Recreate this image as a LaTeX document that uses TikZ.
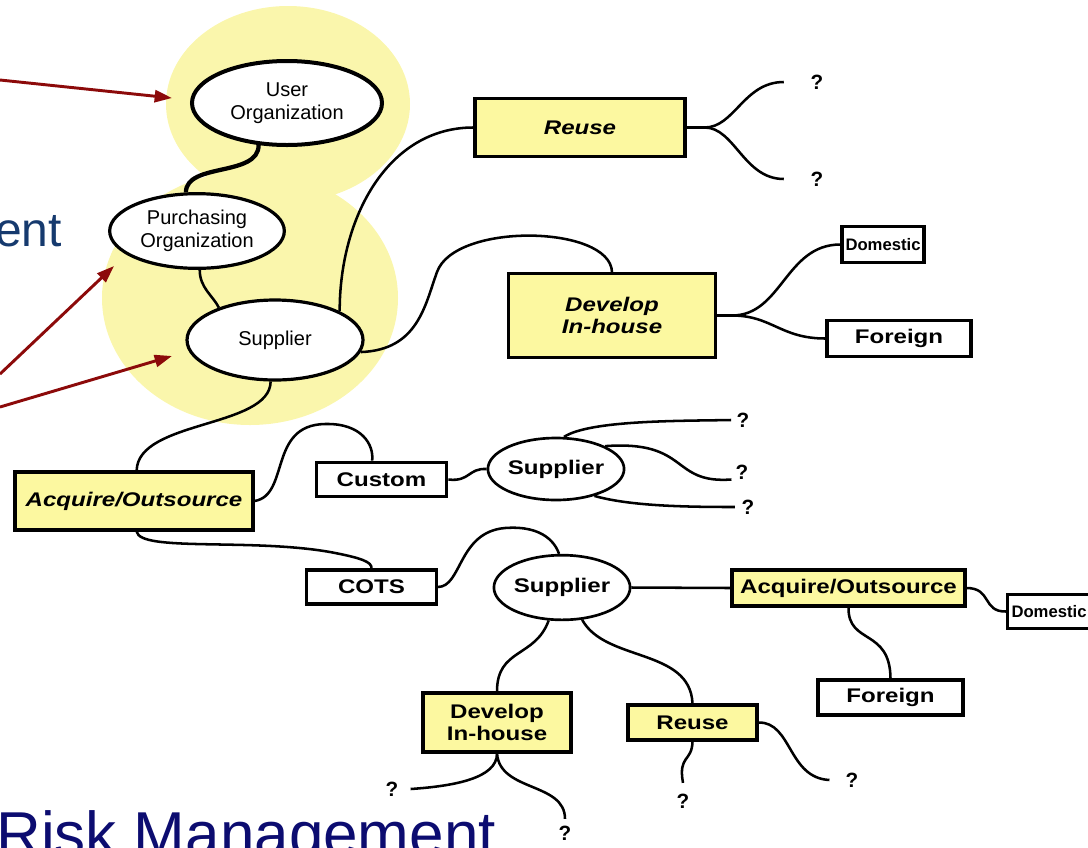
\documentclass[tikz,border=0pt]{standalone}
\usepackage{fontspec}
\setmainfont{Liberation Sans}
\newfontfamily\boxfont[FakeStretch=1.22]{Liberation Sans}
\usetikzlibrary{shapes.geometric,arrows.meta,calc}
\definecolor{blobyellow}{RGB}{250,246,172}
\definecolor{boxyellow}{RGB}{252,248,160}
\definecolor{arrowred}{RGB}{140,10,10}
\definecolor{entblue}{RGB}{22,58,110}
\definecolor{risknavy}{RGB}{12,12,112}
\tikzset{
  oval/.style={ellipse, draw, fill=white, line width=2.4pt, inner sep=0pt, align=center, font=\fontsize{15}{17}\selectfont},
  soval/.style={ellipse, draw, fill=white, line width=2pt, inner sep=0pt, align=center, font=\boxfont\bfseries\fontsize{14.8}{16}\selectfont},
  ybox/.style={rectangle, draw, fill=boxyellow, line width=2.4pt, inner sep=0pt, align=center, font=\boxfont\bfseries\fontsize{14.8}{16}\selectfont},
  wbox/.style={rectangle, draw, fill=white, line width=2.4pt, inner sep=0pt, align=center, font=\boxfont\bfseries\fontsize{14.8}{16}\selectfont},
  dbox/.style={rectangle, draw, fill=white, line width=2.4pt, inner sep=0pt, align=center, font=\bfseries\fontsize{12.5}{14}\selectfont},
  qm/.style={inner sep=0pt, font=\bfseries\fontsize{15.5}{17}\selectfont},
  conn/.style={line width=1.9pt},
  redarrow/.style={draw=arrowred, line width=2.2pt, -{Triangle[length=13pt,width=9pt]}}
}
\begin{document}
\begin{tikzpicture}[x=0.75pt,y=-0.75pt]
\useasboundingbox (0,0) rectangle (1088,847);
% yellow highlight blobs
\fill[blobyellow] (250,298) ellipse [x radius=148, y radius=127];
\fill[blobyellow] (288,104) ellipse [x radius=122, y radius=98];
% big texts
\node[anchor=base east, text=entblue, inner sep=0pt, font=\fontsize{36}{40}\selectfont] (ent) at (62,246) {ent};
\node[anchor=base west, text=risknavy, inner sep=0pt, font=\fontsize{46.5}{50}\selectfont] (risk) at (-4,855) {Risk Management};
% ovals
\node[oval, line width=3pt, minimum width=142.5pt, minimum height=63pt] (uo) at (287,103) {User\\Organization};
\node[oval, minimum width=131pt, minimum height=56pt] (po) at (197,231) {Purchasing\\Organization};
\node[oval, minimum width=132pt, minimum height=60pt] (s1) at (275,340) {Supplier};
% boxes
\node[ybox, minimum width=157.5pt, minimum height=44pt] (reuse1) at (580,127.5) {\itshape Reuse};
\node[ybox, minimum width=155pt, minimum height=63pt] (dev1) at (612,315.5) {\itshape Develop\\\itshape In-house};
\node[dbox, minimum width=61.5pt, minimum height=27pt] (dom1) at (883,244.5) {Domestic};
\node[wbox, minimum width=108pt, minimum height=27pt] (for1) at (899,338.5) {Foreign};
\node[ybox, minimum width=178.5pt, minimum height=43.5pt] (acq1) at (134,501) {\itshape Acquire/Outsource};
\node[wbox, minimum width=98pt, minimum height=26pt] (cust) at (381.5,479.5) {Custom};
\node[soval, minimum width=99pt, minimum height=46.5pt] (s2) at (556,469) {Supplier};
\node[wbox, minimum width=97pt, minimum height=25.5pt] (cots) at (371.5,587) {COTS};
\node[soval, minimum width=97.5pt, minimum height=48.5pt] (s3) at (562,587.5) {Supplier};
\node[ybox, minimum width=174.75pt, minimum height=27pt] (acq2) at (848.5,588) {Acquire/Outsource};
\node[dbox, minimum width=62pt, minimum height=25pt] (dom2) at (1049,611.5) {Domestic};
\node[wbox, minimum width=108.75pt, minimum height=26.25pt] (for2) at (890.5,697.5) {Foreign};
\node[ybox, minimum width=111pt, minimum height=44.25pt] (dev2) at (497,722.5) {Develop\\In-house};
\node[ybox, minimum width=96.75pt, minimum height=26.25pt] (reuse2) at (692.5,722.5) {Reuse};
% question marks
\node[qm] (q1) at (817,82) {?};
\node[qm] (q2) at (817,179) {?};
\node[qm] (q3) at (743,420) {?};
\node[qm] (q4) at (742,472) {?};
\node[qm] (q5) at (748,507) {?};
\node[qm] (q6) at (392,789) {?};
\node[qm] (q7) at (565,833) {?};
\node[qm] (q8) at (683,801) {?};
\node[qm] (q9) at (852,780) {?};
% connectors
\draw[line width=3.2pt] (uo.-124) .. controls +(0,32) and +(0,-30) .. (po.106);
\draw[conn] (po.-86) .. controls +(0,18) and +(-6,-12) .. (s1.150);
\draw[conn] (s1.24) .. controls +(0,-95) and +(-85,0) .. (reuse1.west);
\draw[conn] (s1.-8) .. controls (418,350) and (425,305) .. (437,272) .. controls (455,222) and (610,225) .. (dev1.north);
\draw[conn] (reuse1.east) -- +(18,0) .. controls +(30,0) and +(-40,0) .. ([xshift=-20pt]q1.west);
\draw[conn] (reuse1.east) -- +(18,0) .. controls +(30,0) and +(-40,0) .. ([xshift=-20pt]q2.west);
\draw[conn] (dev1.east) -- +(15,0) .. controls +(50,0) and +(-55,0) .. (dom1.west);
\draw[conn] (dev1.east) -- +(15,0) .. controls +(40,0) and +(-45,0) .. (for1.west);
\draw[conn] (s1.-96) .. controls (270,428) and (138,420) .. ([xshift=2pt]acq1.north);
\draw[conn] (acq1.east) .. controls (290,495) and (268,425) .. (325,424) .. controls (362,423) and (374,445) .. ([xshift=-7pt]cust.north);
\draw[conn] (cust.east) .. controls (470,482) and (468,468) .. (s2.west);
\draw[conn] (s2.76) .. controls (590,420) and (680,421) .. ([xshift=-4pt]q3.west);
\draw[conn] (s2.25) .. controls (690,440) and (670,484) .. ([xshift=-3pt]q4.south west);
\draw[conn] (s2.-35) .. controls (630,506) and (685,507) .. ([xshift=-5pt]q5.west);
\draw[conn] ([xshift=2pt]acq1.south) .. controls (140,552) and (250,538) .. (330,552) .. controls (362,558) and (372,562) .. (cots.north);
\draw[conn] (cots.east) .. controls (462,587) and (458,532) .. (505,528) .. controls (545,525) and (556,545) .. (s3.95);
\draw[conn] (s3.east) -- (acq2.west);
\draw[conn] (acq2.east) .. controls (992,588) and (982,612) .. (dom2.west);
\draw[conn] (acq2.south) .. controls (848,645) and (890,628) .. (for2.north);
\draw[conn] (s3.-112) .. controls (535,658) and (497,648) .. (dev2.north);
\draw[conn] (s3.-58) .. controls (605,662) and (690,648) .. (reuse2.north);
\draw[conn] (reuse2.south) .. controls (692,762) and (678,755) .. ([yshift=8pt]q8.north);
\draw[conn] (reuse2.east) .. controls (792,722) and (788,778) .. ([xshift=-12pt]q9.west);
\draw[conn] (dev2.south) .. controls (497,778) and (455,786) .. ([xshift=9pt]q6.east);
\draw[conn] (dev2.south) .. controls (500,792) and (565,782) .. ([yshift=5pt]q7.north);
% red arrows
\coordinate (a1) at (0,80);
\coordinate (a2) at (0,374);
\coordinate (a3) at (0,407);
\coordinate (t1) at (172,98);
\coordinate (t2) at (114,266);
\coordinate (t3) at (172,356);
\draw[redarrow] (a1) -- (t1);
\draw[redarrow] (a2) -- (t2);
\draw[redarrow] (a3) -- (t3);
\end{tikzpicture}
\end{document}
